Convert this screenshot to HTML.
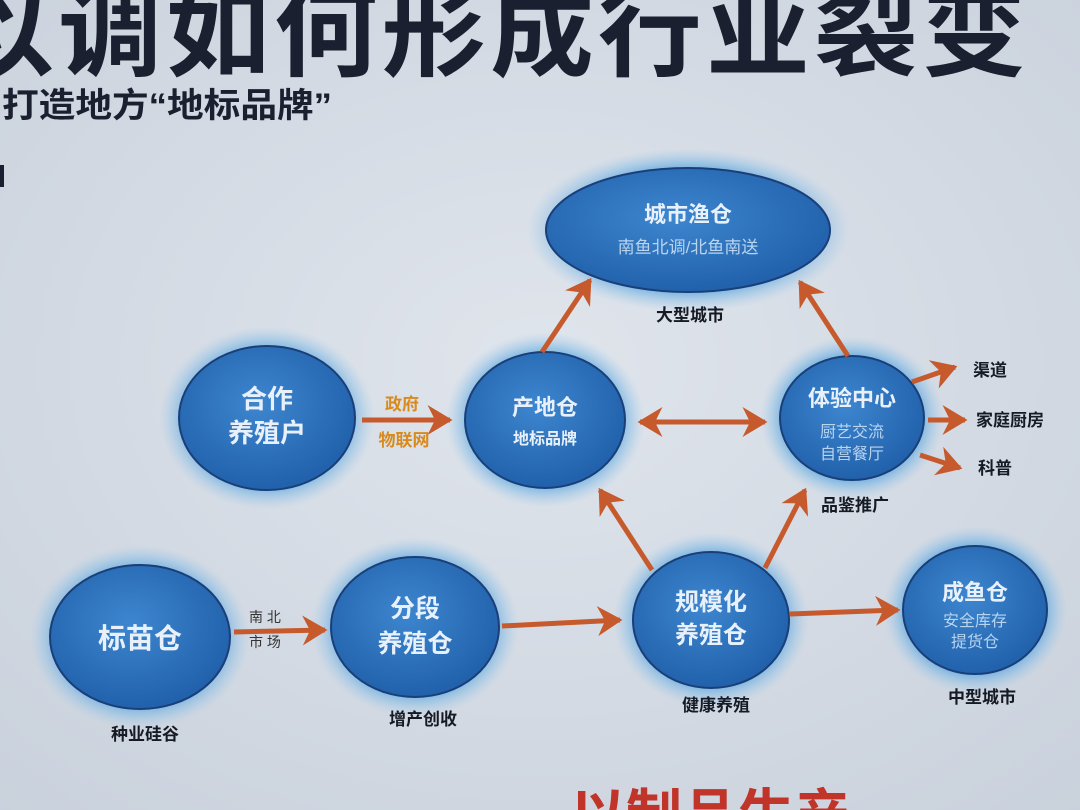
<!DOCTYPE html>
<html><head><meta charset="utf-8"><style>
html,body{margin:0;padding:0;width:1080px;height:810px;overflow:hidden;background:#d4dae3;}
svg{display:block}
text{font-family:"Liberation Sans","Noto Sans CJK SC",sans-serif;}
</style></head><body>
<svg width="1080" height="810" viewBox="0 0 1080 810">
<defs>
<radialGradient id="bg" cx="50%" cy="45%" r="75%">
<stop offset="0" stop-color="#e0e5ec"/><stop offset="1" stop-color="#c9d1dc"/></radialGradient>
<radialGradient id="glow"><stop offset="0.7" stop-color="#4fa0dc" stop-opacity="0.95"/><stop offset="1" stop-color="#9cc9ec" stop-opacity="0"/></radialGradient>
<radialGradient id="ball" cx="45%" cy="40%" r="65%"><stop offset="0" stop-color="#3d86cf"/><stop offset="1" stop-color="#1f5ea8"/></radialGradient>
<marker id="ah" markerWidth="6" markerHeight="6" refX="4.5" refY="3" orient="auto" markerUnits="strokeWidth"><path d="M0,0 L5,3 L0,6 L1.5,3Z" fill="#c65a2c"/></marker>
<marker id="as" markerWidth="6" markerHeight="6" refX="0.5" refY="3" orient="auto" markerUnits="strokeWidth"><path d="M5,0 L0,3 L5,6 L3.5,3Z" fill="#c65a2c"/></marker>
</defs>
<rect width="1080" height="810" fill="url(#bg)"/>
<text x="-50" y="68" font-size="100" font-weight="bold" fill="#1a2030" letter-spacing="4" textLength="1080" lengthAdjust="spacingAndGlyphs">以调如何形成行业裂变</text>
<text x="2" y="117" font-size="34" font-weight="bold" fill="#1a2030" textLength="330" lengthAdjust="spacingAndGlyphs">打造地方“地标品牌”</text>
<rect x="0" y="165" width="4" height="22" fill="#1a2030"/>

<g>
<ellipse cx="688" cy="230" rx="162" ry="82" fill="url(#glow)"/>
<ellipse cx="688" cy="230" rx="142" ry="62" fill="url(#ball)" stroke="#1a3f78" stroke-width="2"/>
<ellipse cx="267" cy="418" rx="108" ry="92" fill="url(#glow)"/>
<ellipse cx="267" cy="418" rx="88" ry="72" fill="url(#ball)" stroke="#1a3f78" stroke-width="2"/>
<ellipse cx="545" cy="420" rx="100" ry="88" fill="url(#glow)"/>
<ellipse cx="545" cy="420" rx="80" ry="68" fill="url(#ball)" stroke="#1a3f78" stroke-width="2"/>
<ellipse cx="852" cy="418" rx="92" ry="82" fill="url(#glow)"/>
<ellipse cx="852" cy="418" rx="72" ry="62" fill="url(#ball)" stroke="#1a3f78" stroke-width="2"/>
<ellipse cx="140" cy="637" rx="110" ry="92" fill="url(#glow)"/>
<ellipse cx="140" cy="637" rx="90" ry="72" fill="url(#ball)" stroke="#1a3f78" stroke-width="2"/>
<ellipse cx="415" cy="627" rx="104" ry="90" fill="url(#glow)"/>
<ellipse cx="415" cy="627" rx="84" ry="70" fill="url(#ball)" stroke="#1a3f78" stroke-width="2"/>
<ellipse cx="711" cy="620" rx="98" ry="88" fill="url(#glow)"/>
<ellipse cx="711" cy="620" rx="78" ry="68" fill="url(#ball)" stroke="#1a3f78" stroke-width="2"/>
<ellipse cx="975" cy="610" rx="92" ry="84" fill="url(#glow)"/>
<ellipse cx="975" cy="610" rx="72" ry="64" fill="url(#ball)" stroke="#1a3f78" stroke-width="2"/>
</g>

<g stroke="#c65a2c" stroke-width="5" fill="none">
<line x1="542" y1="352" x2="590" y2="280" marker-end="url(#ah)"/>
<line x1="848" y1="356" x2="800" y2="282" marker-end="url(#ah)"/>
<line x1="362" y1="420" x2="450" y2="420" marker-end="url(#ah)"/>
<line x1="640" y1="422" x2="765" y2="422" marker-start="url(#as)" marker-end="url(#ah)"/>
<line x1="912" y1="382" x2="955" y2="367" marker-end="url(#ah)"/>
<line x1="928" y1="420" x2="965" y2="420" marker-end="url(#ah)"/>
<line x1="920" y1="455" x2="960" y2="468" marker-end="url(#ah)"/>
<line x1="652" y1="570" x2="600" y2="490" marker-end="url(#ah)"/>
<line x1="765" y1="568" x2="805" y2="490" marker-end="url(#ah)"/>
<line x1="234" y1="632" x2="325" y2="630" marker-end="url(#ah)"/>
<line x1="502" y1="626" x2="620" y2="620" marker-end="url(#ah)"/>
<line x1="790" y1="614" x2="898" y2="610" marker-end="url(#ah)"/>
</g>

<g fill="#e8f1fb" text-anchor="middle">
<text x="688" y="222" font-size="22" font-weight="bold">城市渔仓</text>
<text x="688" y="253" font-size="17" fill="#b9d4ef">南鱼北调/北鱼南送</text>
<text x="267" y="408" font-size="26" font-weight="bold">合作</text>
<text x="267" y="442" font-size="26" font-weight="bold">养殖户</text>
<text x="545" y="415" font-size="22" font-weight="bold">产地仓</text>
<text x="545" y="444" font-size="16" font-weight="bold">地标品牌</text>
<text x="852" y="406" font-size="22" font-weight="bold">体验中心</text>
<text x="852" y="437" font-size="16" fill="#b9d4ef">厨艺交流</text>
<text x="852" y="459" font-size="16" fill="#b9d4ef">自营餐厅</text>
<text x="140" y="648" font-size="28" font-weight="bold">标苗仓</text>
<text x="415" y="617" font-size="25" font-weight="bold">分段</text>
<text x="415" y="652" font-size="25" font-weight="bold">养殖仓</text>
<text x="711" y="610" font-size="24" font-weight="bold">规模化</text>
<text x="711" y="643" font-size="24" font-weight="bold">养殖仓</text>
<text x="975" y="600" font-size="22" font-weight="bold">成鱼仓</text>
<text x="975" y="626" font-size="16" fill="#b9d4ef">安全库存</text>
<text x="975" y="647" font-size="16" fill="#b9d4ef">提货仓</text>
</g>

<g fill="#151a24" font-weight="bold" font-size="17" text-anchor="middle">
<text x="690" y="321">大型城市</text>
<text x="990" y="376">渠道</text>
<text x="1010" y="426">家庭厨房</text>
<text x="995" y="474">科普</text>
<text x="855" y="511">品鉴推广</text>
<text x="145" y="740">种业硅谷</text>
<text x="423" y="725">增产创收</text>
<text x="716" y="711">健康养殖</text>
<text x="982" y="703">中型城市</text>
</g>
<g fill="#d98a1c" font-weight="bold" font-size="17" text-anchor="middle">
<text x="402" y="410">政府</text>
<text x="404" y="446">物联网</text>
</g>
<g fill="#333" font-size="14" text-anchor="middle" font-family="Liberation Serif,Noto Serif CJK SC,serif">
<text x="265" y="622">南 北</text>
<text x="265" y="647">市 场</text>
</g>
<text x="570" y="835" font-size="56" font-weight="bold" fill="#c0342a">以制品生产</text>
</svg>
</body></html>
